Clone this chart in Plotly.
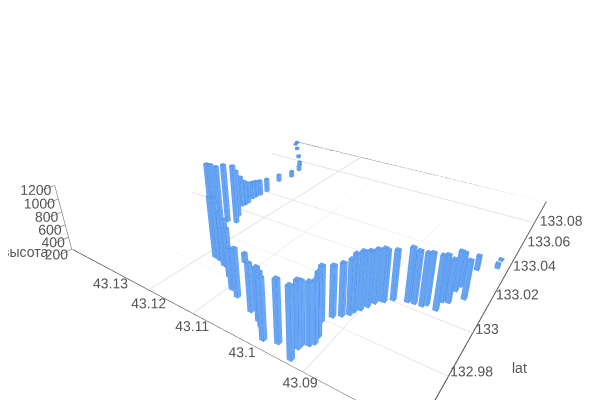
import plotly.graph_objects as go

lon = [133.0078,133.0074,133.0068,133.009,133.0102,133.015,133.0228,133.0246,133.027,133.0312,133.0336,133.036,133.0406,133.053,133.0606,133.0692,133.075,133.0834,133.093,133.0984,133.1025,133.101,
       132.9866,132.9864,132.986,132.9844,132.9842,132.9804,132.9756,132.9736,132.99,132.9706,132.9686,132.967,132.963,132.9644,132.9614,132.966,132.9674,132.9688,132.9702,132.973,132.9754,132.979,
       132.9828,132.9848,132.9868,132.9886,132.9906,132.9932,132.996,132.9982,132.9984,133.0008,133.0026,133.003,133.0032,133.0046,133.0038,133.0088,133.0096,133.0168,133.02,133.0142,133.0328,133.038,133.0436]
lat = [43.129,43.1277,43.126,43.1251,43.1233,43.1248,43.1272,43.127,43.1271,43.1276,43.1276,43.1274,43.1273,43.1285,43.1275,43.1283,43.1301,43.1333,43.1371,43.1395,43.1405,43.14,
       43.118,43.1172,43.1166,43.1149,43.1141,43.1119,43.1092,43.1072,43.1126,43.1032,43.1009,43.0998,43.0979,43.0958,43.0926,43.093,43.093,43.0921,43.0917,43.092,43.0928,43.0934,
       43.0926,43.0916,43.0908,43.0906,43.09,43.0895,43.089,43.0884,43.088,43.087,43.085,43.084,43.0828,43.0823,43.0807,43.0807,43.0798,43.0799,43.0797,43.0781,43.0789,43.0762,43.0763]
height = [1121,1137,1144,1163,1164,986,732,634,571,515,496,475,444,333,323,305,286,259,253,237,224,224,
          1143,1133,1087,1029,936,929,817,908,354,889,950,958,1038,1058,1152,1099,1056,1043,1034,1019,991,977,
          924,944,976,1018,1030,996,975,960,946,926,981,957,961,947,976,880,830,794,714,771,429,279,227]
x_ticks = [132.98,133,133.02,133.04,133.06,133.08]
y_ticks = [43.09,43.1,43.11,43.12,43.13]
z_ticks = [200,400,600,800,1000,1200]
x_text = ['132.98','133','133.02','133.04','133.06','133.08']
y_text = ['43.09','43.1','43.11','43.12','43.13']
z_text = [str(t) for t in z_ticks]
xl,xh,yl,yh = 132.9595,133.1036,43.0745,43.1411
zl,zh = 200,1200
e2 = dict(x=-1.4757,y=-0.9089,z=0.8439)
c2 = dict(x=-0.0856,y=0.0514,z=-0.039)
a2 = dict(x=1.4359,y=1.3827,z=0.263)

wx,wy = 0.00075,0.00037
X=[];Y=[];Z=[];I=[];J=[];K=[]
ex=[];ey=[];ez=[]
faces=[(0,1,2),(0,2,3),(4,5,6),(4,6,7),(0,1,5),(0,5,4),(1,2,6),(1,6,5),(2,3,7),(2,7,6),(3,0,4),(3,4,7)]
for x,y,z in zip(lon,lat,height):
    s=len(X)
    cx=[x-wx,x+wx,x+wx,x-wx];cy=[y-wy,y-wy,y+wy,y+wy]
    for zz in (zl,z):
        X+=cx;Y+=cy;Z+=[zz]*4
    for q in faces: I.append(s+q[0]);J.append(s+q[1]);K.append(s+q[2])
    for c in range(4):
        ex+=[cx[c],cx[c],None];ey+=[cy[c],cy[c],None];ez+=[zl,z,None]
    ex+=cx+[cx[0],None];ey+=cy+[cy[0],None];ez+=[z]*5+[None]
inx,iny = 0.0001,0.00005
gx=[];gy=[];gz=[]
for t in x_ticks: gx+=[t,t,None];gy+=[yl,yh,None];gz+=[zl,zl,None]
for t in y_ticks: gx+=[xl,xh,None];gy+=[t,t,None];gz+=[zl,zl,None]
bx=[xl+inx,xh-inx,xh-inx,xl+inx,xl+inx];by=[yl+iny,yl+iny,yh-iny,yh-iny,yl+iny];bz=[zl]*5
fig=go.Figure()
fig.add_trace(go.Scatter3d(x=gx,y=gy,z=gz,mode='lines',line=dict(color='#dcdcdc',width=1.5),hoverinfo='skip'))
fig.add_trace(go.Scatter3d(x=bx,y=by,z=bz,mode='lines',line=dict(color='#555',width=1.5),hoverinfo='skip'))
fig.add_trace(go.Mesh3d(x=X,y=Y,z=Z,i=I,j=J,k=K,color='#6dadfc',flatshading=True,opacity=1,lighting=dict(ambient=.95,diffuse=.25,specular=0,fresnel=0)))
fig.add_trace(go.Scatter3d(x=ex,y=ey,z=ez,mode='lines',line=dict(color='#4284ee',width=1),hoverinfo='skip'))
tf=dict(size=14,color='#555',family='Liberation Sans')
fig.add_trace(go.Scatter3d(x=[xl+0.002]*5,y=[t+0.0012 for t in y_ticks],z=[zl]*5,mode='text',text=y_text,textposition='bottom center',textfont=tf,hoverinfo='skip'))
fig.add_trace(go.Scatter3d(x=x_ticks,y=[yl+0.0015]*6,z=[zl]*6,mode='text',text=x_text,textposition='middle right',textfont=tf,hoverinfo='skip'))
fig.add_trace(go.Scatter3d(x=[xl]*6,y=[yh-0.003]*6,z=z_ticks,mode='text',text=z_text,textposition='middle left',textfont=tf,hoverinfo='skip'))
ax=dict(showbackground=False,showgrid=False,showline=True,linecolor='#555',zeroline=False,showticklabels=False,title='',showspikes=False)
fig.update_layout(width=600,height=400,margin=dict(l=0,r=0,t=0,b=0),paper_bgcolor='white',font=dict(family='Liberation Sans',color='#555'),showlegend=False,
 annotations=[
  dict(text='lat',x=511/600,y=1-360/400,xref='paper',yref='paper',xanchor='center',yanchor='middle',showarrow=False,font=dict(size=14,color='#555')),
  dict(text='высота',x=17/600,y=1-244/400,xref='paper',yref='paper',xanchor='center',yanchor='middle',showarrow=False,font=dict(size=14,color='#555'))],
 scene=dict(aspectmode='manual',aspectratio=a2,camera=dict(eye=e2,center=c2,up=dict(x=0,y=0,z=1)),
 xaxis=dict(ax,range=[xl,xh],tickvals=x_ticks,ticks=''),
 yaxis=dict(ax,range=[yl,yh],tickvals=y_ticks,ticks=''),
 zaxis=dict(ax,range=[zl,zh],tickvals=z_ticks,ticks='outside',ticklen=4,tickcolor='#555')))
fig.write_html("out.html")
